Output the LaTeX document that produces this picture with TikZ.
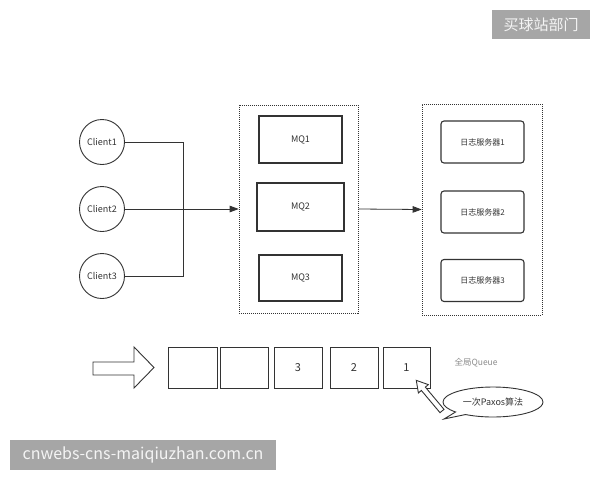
\documentclass[tikz,border=0pt]{standalone}
\usepackage{fontspec}
\setmainfont{Noto Sans CJK SC}
\usetikzlibrary{shapes.callouts,arrows.meta}
\definecolor{ink}{HTML}{333333}
\definecolor{tagbg}{HTML}{A6A6A6}
\definecolor{soft}{HTML}{8A8A8A}
\definecolor{tagtext}{HTML}{F4F4F4}
\begin{document}
\begin{tikzpicture}[x=1pt,y=-1pt,
  lbl/.style={text=ink,font=\fontsize{9}{10}\selectfont},
  client/.style={circle,draw=ink,line width=0.9pt,minimum size=45pt,inner sep=0pt,lbl},
  mq/.style={rectangle,draw=ink,line width=1.1pt,inner sep=0pt,lbl},
  logsrv/.style={rectangle,rounded corners=3pt,draw=ink,line width=1.1pt,minimum width=83pt,minimum height=42pt,inner sep=0pt,text=ink,font=\fontsize{8}{9}\selectfont},
  group/.style={rectangle,draw=ink,line width=0.6pt,dash pattern=on 1pt off 1pt,inner sep=0pt},
  cell/.style={rectangle,draw=ink,line width=0.9pt,minimum width=48pt,minimum height=41pt,inner sep=0pt,text=ink,font=\fontsize{11}{12}\selectfont},
  link/.style={draw=ink,line width=0.8pt},
  tip/.style={-{Triangle[length=9pt,width=6.5pt]}},
  hollow/.style={draw=ink,line width=0.9pt,fill=white},
  tag/.style={rectangle,fill=tagbg,text=tagtext,inner sep=0pt}]
\useasboundingbox (0,0) rectangle (600,480);
\fill[white] (0,0) rectangle (600,480);

% watermark tags
\node[tag,minimum width=98pt,minimum height=29pt,font=\fontsize{15}{16}\selectfont] (tagtop) at (541,24.5) {买球站部门};
\node[tag,minimum width=266pt,minimum height=30pt,font=\fontsize{16}{18}\selectfont] (tagbot) at (143,455) {cnwebs-cns-maiqiuzhan.com.cn};

% clients
\node[client] (c1) at (102,142) {Client1};
\node[client] (c2) at (102,209) {Client2};
\node[client] (c3) at (102,276) {Client3};

% MQ group
\node[group,minimum width=119pt,minimum height=208pt] (mqg) at (298.5,209) {};
\node[mq,minimum width=83pt,minimum height=47pt] (mq1) at (300.5,139.5) {MQ1};
\node[mq,minimum width=87pt,minimum height=48pt] (mq2) at (300.5,207) {MQ2};
\node[mq,minimum width=83pt,minimum height=46pt] (mq3) at (300.5,278) {MQ3};

% log server group
\node[group,minimum width=120pt,minimum height=211pt] (lg) at (482,209.5) {};
\node[logsrv] (l1) at (482.5,142) {日志服务器1};
\node[logsrv] (l2) at (482.5,212) {日志服务器2};
\node[logsrv] (l3) at (482.5,280.5) {日志服务器3};

% connectors
\coordinate (jt) at (183,142);
\coordinate (jb) at (183,276);
\draw[link] (c1.east) -- (jt) -- (jb) -- (c3.east);
\draw[link,tip] (c2.east) -- (mqg.west);
\draw[link,tip] (mqg.east) -- (lg.west);

% global queue
\draw[hollow] (93,362) -- (134,362) -- (134,347) -- (154,367.5) -- (134,388) -- (134,375) -- (93,375) -- cycle;
\node[cell,minimum width=49pt] (q1) at (192.5,367.5) {};
\node[cell] (q2) at (244,367.5) {};
\node[cell] (q3) at (298,367.5) {3};
\node[cell] (q4) at (354,367.5) {2};
\node[cell,minimum width=47pt] (q5) at (406.5,367.5) {\raisebox{-2pt}{1}};
\node[text=soft,font=\fontsize{8.5}{9}\selectfont,anchor=west] (ql) at (451,363) {全局Queue};

% callout
\node[ellipse callout,draw=ink,line width=0.9pt,fill=white,minimum width=100pt,minimum height=30pt,inner sep=0pt,
      callout absolute pointer={(444,419)},text=ink,font=\fontsize{9}{10}\selectfont] (paxos) at (493,402) {一次Paxos算法};

% hollow pointer arrow from callout to cell 1
\begin{scope}[shift={(442,411)},rotate=130]
  \draw[hollow] (0,2.6) -- (29,2.6) -- (29,6.5) -- (40,0) -- (29,-6.5) -- (29,-2.6) -- (0,-2.6) -- cycle;
\end{scope}
\end{tikzpicture}
\end{document}
